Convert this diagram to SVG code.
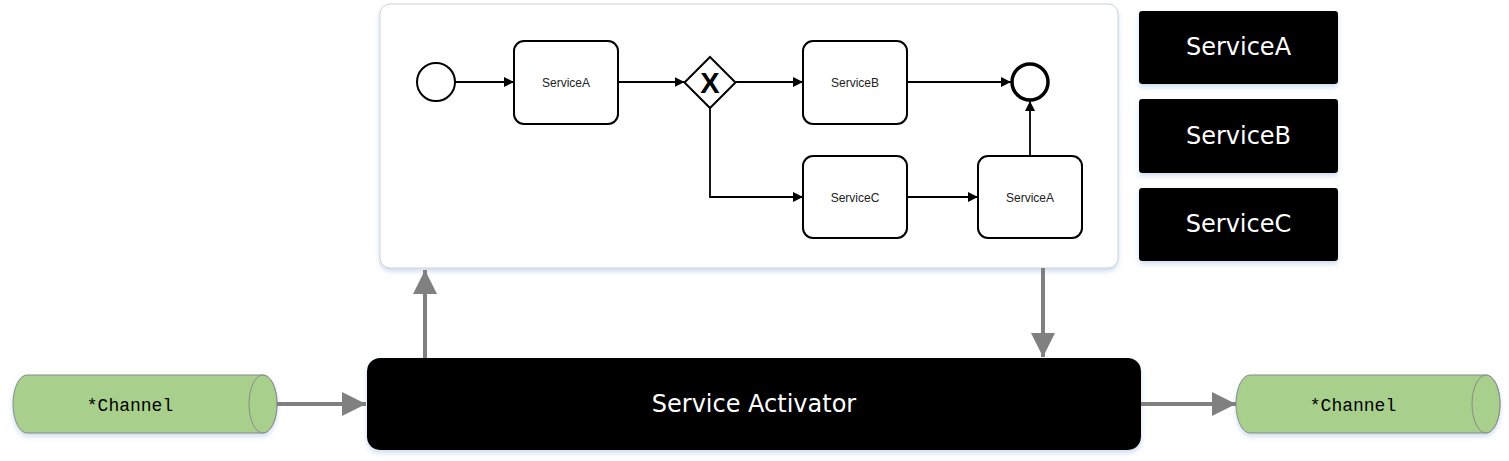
<svg xmlns="http://www.w3.org/2000/svg" width="1509" height="461" viewBox="0 0 1509 461">
<style>
.task{fill:#fff;stroke:#000;stroke-width:2}
.tl{font-family:"Liberation Sans",Arial,sans-serif;font-size:12px;fill:#222;text-anchor:middle}
.flow{fill:none;stroke:#000;stroke-width:1.8}
.gray{fill:none;stroke:#808080;stroke-width:4}
.blk{fill:#000}
.wl{font-family:"DejaVu Sans",Verdana,sans-serif;fill:#fff;text-anchor:middle}
.ch{fill:#a8cf8c;stroke:#8a8a8a;stroke-width:1}
.cl{font-family:"Liberation Mono","Courier New",monospace;font-size:18px;fill:#000;text-anchor:middle}
</style>
<defs>
<marker id="ab" viewBox="0 0 10 10" refX="10" refY="5" markerWidth="10" markerHeight="10" markerUnits="userSpaceOnUse" orient="auto">
<path d="M0,0 L10,5 L0,10 Z" fill="#000"/>
</marker>
<marker id="ag" viewBox="0 0 24 24" refX="24" refY="12" markerWidth="24" markerHeight="24" markerUnits="userSpaceOnUse" orient="auto">
<path d="M0,0 L24,12 L0,24 Z" fill="#808080"/>
</marker>
<filter id="sh" x="-5%" y="-10%" width="110%" height="130%">
<feDropShadow dx="0" dy="3" stdDeviation="2.5" flood-color="#9fbbe0" flood-opacity="0.5"/>
</filter>
</defs>

<g id="process">
<rect x="380" y="4" width="738" height="264" rx="10" fill="#fff" stroke="#cfd3d8" stroke-width="1" filter="url(#sh)"/>
</g>

<g id="start"><circle cx="436" cy="82" r="19" fill="#fff" stroke="#000" stroke-width="2"/></g>
<g id="taskA1"><rect class="task" x="514" y="41" width="104" height="83" rx="10"/><text class="tl" x="566" y="86.5">ServiceA</text></g>
<g id="gateway"><path d="M710,57 L735.5,82.5 L710,108 L684.5,82.5 Z" fill="#fff" stroke="#000" stroke-width="2"/><text x="710" y="93" font-family="Liberation Sans,Arial,sans-serif" font-size="29" font-weight="bold" text-anchor="middle" fill="#000">X</text></g>
<g id="taskB"><rect class="task" x="803" y="41" width="104" height="83" rx="10"/><text class="tl" x="855" y="86.5">ServiceB</text></g>
<g id="end"><circle cx="1030" cy="82" r="18" fill="#fff" stroke="#000" stroke-width="3.5"/></g>
<g id="taskC"><rect class="task" x="803" y="156" width="104" height="82" rx="10"/><text class="tl" x="855" y="201.5">ServiceC</text></g>
<g id="taskA2"><rect class="task" x="978" y="156" width="104" height="82" rx="10"/><text class="tl" x="1030" y="201.5">ServiceA</text></g>

<g id="svcA"><rect class="blk" x="1139" y="11" width="199" height="73" rx="3" filter="url(#sh)"/><text class="wl" x="1238.5" y="55" font-size="24">ServiceA</text></g>
<g id="svcB"><rect class="blk" x="1139" y="99" width="199" height="74" rx="3" filter="url(#sh)"/><text class="wl" x="1238.5" y="144" font-size="24">ServiceB</text></g>
<g id="svcC"><rect class="blk" x="1139" y="188" width="199" height="73" rx="3" filter="url(#sh)"/><text class="wl" x="1238.5" y="232" font-size="24">ServiceC</text></g>

<g id="activator"><rect class="blk" x="367" y="358" width="774" height="92" rx="13" filter="url(#sh)"/><text class="wl" x="754" y="412" font-size="24">Service Activator</text></g>

<g id="channelIn">
<path class="ch" d="M27,375 L263,375 A14,29 0 0 1 263,433 L27,433 A14,29 0 0 1 27,375 Z" filter="url(#sh)"/>
<ellipse class="ch" cx="263" cy="404" rx="14" ry="29"/>
<text class="cl" x="130" y="411">*Channel</text>
</g>
<g id="channelOut">
<path class="ch" d="M1250,375 L1486,375 A14,29 0 0 1 1486,433 L1250,433 A14,29 0 0 1 1250,375 Z" filter="url(#sh)"/>
<ellipse class="ch" cx="1486" cy="404" rx="14" ry="29"/>
<text class="cl" x="1353" y="411">*Channel</text>
</g>

<g id="connectors">
<path class="flow" d="M455,82 L514,82" marker-end="url(#ab)"/>
<path class="flow" d="M618,82 L684.5,82" marker-end="url(#ab)"/>
<path class="flow" d="M735.5,82 L803,82" marker-end="url(#ab)"/>
<path class="flow" d="M907,82 L1011,82" marker-end="url(#ab)"/>
<path class="flow" d="M710,108 L710,197 L803,197" marker-end="url(#ab)"/>
<path class="flow" d="M907,197 L978,197" marker-end="url(#ab)"/>
<path class="flow" d="M1030,156 L1030,101" marker-end="url(#ab)"/>
<path class="gray" d="M277,404 L366,404" marker-end="url(#ag)"/>
<path class="gray" d="M425,358 L425,270" marker-end="url(#ag)"/>
<path class="gray" d="M1043,268 L1043,357" marker-end="url(#ag)"/>
<path class="gray" d="M1141,404 L1236,404" marker-end="url(#ag)"/>
</g>
</svg>
